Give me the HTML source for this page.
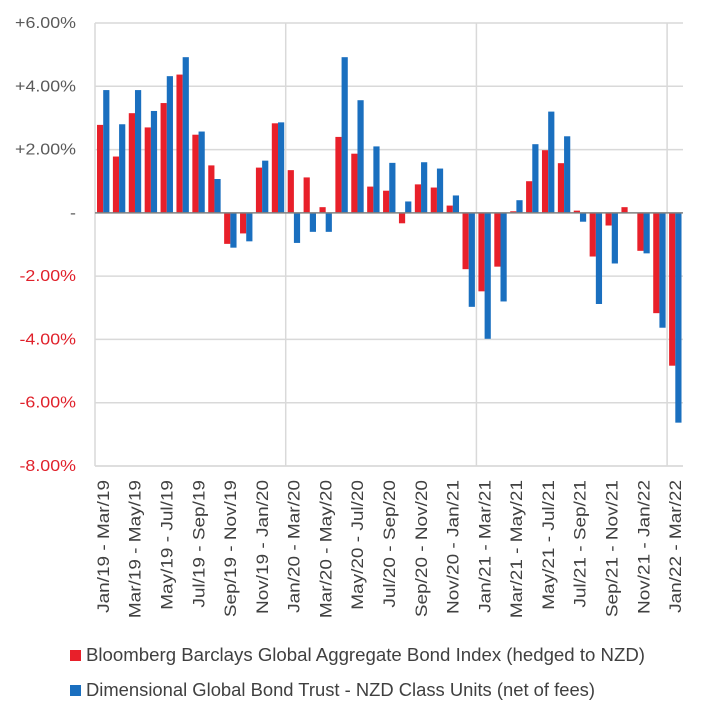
<!DOCTYPE html>
<html><head><meta charset="utf-8"><style>
body{margin:0;background:#fff;width:707px;height:719px;overflow:hidden;font-family:"Liberation Sans",sans-serif}
</style></head><body>
<svg id="chart" width="707" height="719" xmlns="http://www.w3.org/2000/svg"></svg>
<script>
const categories=["Jan/19 - Mar/19","Feb/19 - Apr/19","Mar/19 - May/19","Apr/19 - Jun/19","May/19 - Jul/19","Jun/19 - Aug/19","Jul/19 - Sep/19","Aug/19 - Oct/19","Sep/19 - Nov/19","Oct/19 - Dec/19","Nov/19 - Jan/20","Dec/19 - Feb/20","Jan/20 - Mar/20","Feb/20 - Apr/20","Mar/20 - May/20","Apr/20 - Jun/20","May/20 - Jul/20","Jun/20 - Aug/20","Jul/20 - Sep/20","Aug/20 - Oct/20","Sep/20 - Nov/20","Oct/20 - Dec/20","Nov/20 - Jan/21","Dec/20 - Feb/21","Jan/21 - Mar/21","Feb/21 - Apr/21","Mar/21 - May/21","Apr/21 - Jun/21","May/21 - Jul/21","Jun/21 - Aug/21","Jul/21 - Sep/21","Aug/21 - Oct/21","Sep/21 - Nov/21","Oct/21 - Dec/21","Nov/21 - Jan/22","Dec/21 - Feb/22","Jan/22 - Mar/22"];
const indexValues=[2.78,1.78,3.15,2.7,3.47,4.37,2.47,1.5,-0.98,-0.65,1.43,2.83,1.35,1.12,0.18,2.4,1.87,0.83,0.7,-0.33,0.9,0.8,0.23,-1.78,-2.48,-1.7,0.05,1.0,1.98,1.57,0.07,-1.38,-0.4,0.18,-1.2,-3.17,-4.83];
const fundValues=[3.88,2.8,3.88,3.22,4.32,4.92,2.57,1.07,-1.1,-0.9,1.65,2.86,-0.95,-0.6,-0.6,4.92,3.56,2.1,1.58,0.36,1.6,1.4,0.55,-2.97,-3.98,-2.8,0.4,2.17,3.2,2.42,-0.28,-2.88,-1.6,0,-1.28,-3.63,-6.63];
const yTicks=[6,4,2,0,-2,-4,-6,-8];
const yTickLabels=["+6.00%","+4.00%","+2.00%","-","-2.00%","-4.00%","-6.00%","-8.00%"];
const svg=document.getElementById('chart');
const NS='http://www.w3.org/2000/svg';
const L=95,R=683,T=23,B=466;
const gw=(R-L)/categories.length;
function y(v){return T+(6-v)/14*(B-T);}
function x(i){return L+i*gw;}
function mk(t,a,p){const e=document.createElementNS(NS,t);for(const k in a)e.setAttribute(k,a[k]);(p||svg).appendChild(e);return e;}
function stretch(t,f){const w=t.getComputedTextLength();t.setAttribute('textLength',w*f);t.setAttribute('lengthAdjust','spacingAndGlyphs');}
yTicks.forEach((v,i)=>{
  if(v!==0){const g=mk('line',{x1:L,x2:R,y1:y(v),y2:y(v),stroke:'#d9d9d9','stroke-width':1.5});
  
  }
  const t=mk('text',{x:76,y:y(v)+5,'text-anchor':'end','font-size':15.5,fill:v<0?'#e0202a':'#595959'});
  t.textContent=yTickLabels[i];
  
  
  stretch(t,1.15);
});
[12,24,36].forEach(i=>{const g=mk('line',{x1:x(i),x2:x(i),y1:T,y2:B,stroke:'#d9d9d9','stroke-width':1.5});
  
  });
const ax=mk('line',{x1:L,x2:L,y1:T,y2:B,stroke:'#d9d9d9','stroke-width':1.5});


const bw=6.2;
categories.forEach((c,i)=>{
  [[indexValues[i],'#e8202a',2],[fundValues[i],'#1a6fbf',2+bw]].forEach(([v,col,off],k)=>{
    const y0=y(0),y1=y(v);
    const r=mk('rect',{x:x(i)+off,y:Math.min(y0,y1),width:bw,height:Math.abs(y1-y0),fill:col});
    
    
  });
  if(i%2===0){
    const cx=x(i)+gw/2+6,ty=480;
    const t=mk('text',{x:cx,y:ty,'text-anchor':'end','font-size':16.5,fill:'#404040',transform:`rotate(-90 ${cx} ${ty})`});
    t.textContent=c;
    
    
    stretch(t,1.15);
  }
});
const z=mk('line',{x1:L,x2:R,y1:y(0),y2:y(0),stroke:'#808080','stroke-width':1.5});


const bx=mk('line',{x1:L,x2:R,y1:B,y2:B,stroke:'#d9d9d9','stroke-width':1.5});


[['#e8202a','Bloomberg Barclays Global Aggregate Bond Index (hedged to NZD)',650,559],['#1a6fbf','Dimensional Global Bond Trust - NZD Class Units (net of fees)',685,509]].forEach(([col,txt,yy,len],k)=>{
  const s=mk('rect',{x:70,y:yy,width:11,height:11,fill:col});
  
  
  const t=mk('text',{x:86,y:yy+11,'font-size':18,fill:'#404040',textLength:len,lengthAdjust:'spacingAndGlyphs'});
  t.textContent=txt;
  
  
});
</script>
</body></html>
